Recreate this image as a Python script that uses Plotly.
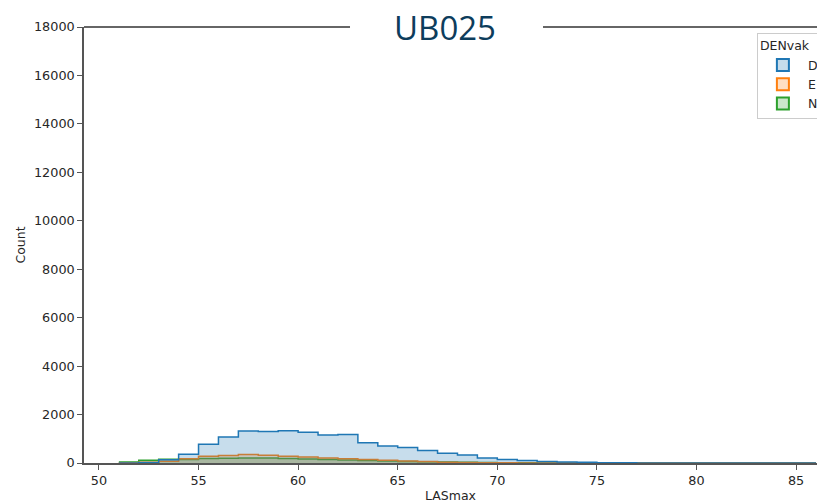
import plotly.graph_objects as go

bin_edges = list(range(51, 87))  # 51..86
counts_D = [5, 20, 130, 360, 770, 1070, 1320, 1300, 1330, 1270, 1155, 1180, 840, 700, 635, 520,
            400, 330, 210, 140, 100, 60, 40, 30, 15, 10, 5, 3, 2, 2, 1, 1, 1, 1, 1]
counts_E = [10, 30, 70, 180, 280, 310, 350, 320, 280, 250, 210, 180, 140, 110, 80, 60,
            30, 20, 12, 8, 5, 3, 2, 1, 1, 0, 0, 0, 0, 0, 0, 0, 0, 0, 0]
counts_N = [40, 110, 150, 140, 190, 200, 210, 210, 190, 160, 140, 120, 100, 80, 60, 50,
            40, 30, 20, 10, 6, 4, 2, 1, 1, 0, 0, 0, 0, 0, 0, 0, 0, 0, 0]
series = [("D", counts_D, "#1f77b4", "rgba(31,119,180,0.25)"),
          ("E", counts_E, "#ff7f0e", "rgba(255,127,14,0.25)"),
          ("N", counts_N, "#2ca02c", "rgba(44,160,44,0.25)")]
y_ticks = list(range(0, 18001, 2000))
x_ticks = list(range(50, 86, 5))

fig = go.Figure()
# draw in reverse so the first hue level sits on top
for name, cnt, col, fillcol in reversed(series):
    fig.add_trace(go.Scatter(
        x=bin_edges, y=cnt + [cnt[-1]], mode="lines", line_shape="hv",
        line=dict(color=col, width=1.5), fill="tozeroy", fillcolor=fillcol,
        name=name, showlegend=False, hoverinfo="skip"))
for name, cnt, col, fillcol in series:
    fig.add_trace(go.Bar(x=[None], y=[None], name=name,
                         marker=dict(color=fillcol, line=dict(color=col, width=1.5))))

axis_col = "#555555"
fig.update_layout(
    width=817, height=504,
    margin=dict(l=84, r=0, t=27, b=41, autoexpand=False),
    paper_bgcolor="white", plot_bgcolor="white",
    font=dict(family="DejaVu Sans", size=12.8, color="#262626"),
    showlegend=True,
    legend=dict(x=0.918, y=0.986, xanchor="left", yanchor="top",
                bgcolor="white", bordercolor="#cccccc", borderwidth=1,
                title=dict(text="DENvak", font=dict(size=12.5)),
                font=dict(size=12.5), itemsizing="constant", itemwidth=40,
                tracegroupgap=2, traceorder="normal"),
    xaxis=dict(range=[49.25, 86.05], tickvals=x_ticks, showgrid=False, zeroline=False,
               showline=True, linecolor=axis_col, linewidth=1.5, ticks="outside",
               ticklen=5, tickcolor=axis_col, tickwidth=1.2, layer="above traces",
               title=dict(text="LASmax", standoff=4, font=dict(size=12.5))),
    yaxis=dict(range=[0, 18000], tickvals=y_ticks, ticktext=[str(v) for v in y_ticks],
               showgrid=False, zeroline=False,
               showline=True, linecolor=axis_col, linewidth=1.5, ticks="outside",
               ticklen=5, tickcolor=axis_col, tickwidth=1.2, layer="above traces",
               title=dict(text="Count", standoff=6, font=dict(size=12.5))),
    shapes=[
        dict(type="line", xref="paper", yref="paper", x0=0, x1=0.3629, y0=1, y1=1,
             line=dict(color="#666666", width=1.8)),
        dict(type="line", xref="paper", yref="paper", x0=0.6262, x1=1.0, y0=1, y1=1,
             line=dict(color="#666666", width=1.8)),
    ],
    annotations=[dict(text="UB025", xref="paper", yref="paper", x=0.493, y=1.0,
                      xanchor="center", yanchor="middle", showarrow=False,
                      font=dict(family="Open Sans", size=33, color="#0d3d5c"))],
)

fig.write_html("out.html")
